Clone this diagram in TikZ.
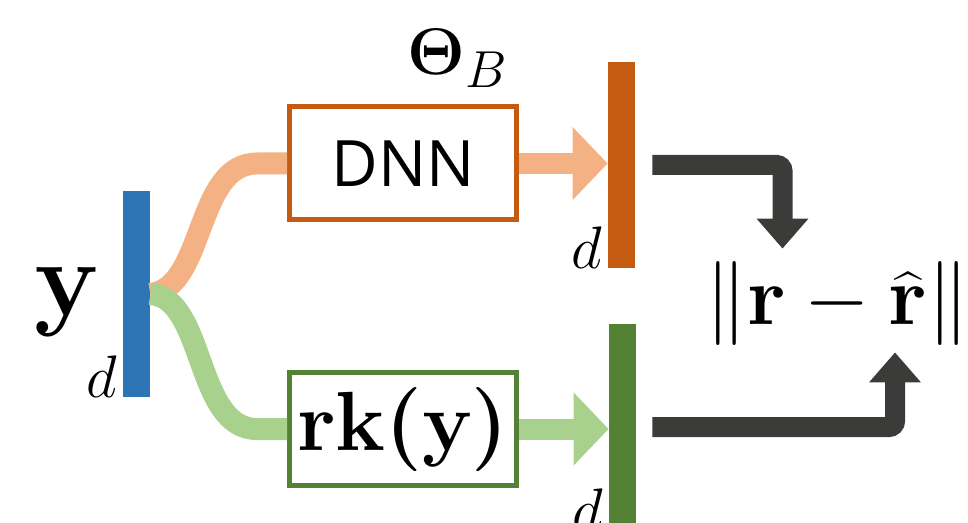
\RequirePackage{fix-cm}
\documentclass[tikz,border=0pt]{standalone}
\usepackage{amsmath}
\usepackage{bm}
\usepackage[no-math]{fontspec}
\newfontfamily\dnnfont{Open Sans}
\usetikzlibrary{arrows.meta}
\definecolor{ybarblue}{HTML}{2E75B6}
\definecolor{obarorange}{HTML}{C55A11}
\definecolor{gbargreen}{HTML}{548235}
\definecolor{lightorange}{HTML}{F4B183}
\definecolor{lightgreen}{HTML}{A9D18E}
\definecolor{lossgray}{HTML}{3B3B39}
\begin{document}
\begin{tikzpicture}[x=0.5pt,y=-0.5pt,
  vbar/.style={inner sep=0,minimum width=13.5pt,minimum height=103pt},
  blk/.style={draw,line width=2.5pt,minimum width=113.5pt,minimum height=56.5pt,inner sep=0},
  dlab/.style={anchor=base east,inner sep=0,font=\fontsize{30}{36}\selectfont},
  feed/.style={line width=11pt},
  fat/.style={line width=10.5pt,-{Triangle[width=35.5pt,length=17.5pt]}},
  lossarr/.style={line width=10pt,draw=lossgray,rounded corners=3pt,-{Triangle[width=25pt,length=15pt]}}]
\useasboundingbox (0,0) rectangle (968,523);
\node[vbar,fill=ybarblue] (ybar) at (136.5,294) {};
\node[vbar,fill=obarorange] (obar) at (621.5,165) {};
\node[vbar,fill=gbargreen] (gbar) at (622.5,427) {};
\node[blk,draw=obarorange] (dnn) at (403,163.5) {\dnnfont\fontsize{32}{36}\selectfont DNN};
\node[blk,draw=gbargreen] (rk) at (403,429) {\fontsize{42}{48}\selectfont$\mathbf{rk}\bm{(}\mathbf{y}\bm{)}$};
\node[anchor=base,inner sep=0] (ylab) at (67,316) {\fontsize{54}{60}\selectfont$\mathbf{y}$};
\node[dlab] (dy) at ([xshift=-2.5pt]ybar.south west) {$d$};
\node[dlab] (dob) at ([xshift=-2.5pt]obar.south west) {$d$};
\node[dlab] (dgb) at ([xshift=-2.5pt]gbar.south west) {$d$};
\node[anchor=base west,inner sep=0] (theta) at (407,75) {\fontsize{33}{40}\selectfont$\mathbf{\Theta}_{\mbox{\fontsize{26}{30}\selectfont$B$}}$};
\node[inner sep=0] (loss) at (837.5,303.5) {\fontsize{42}{48}\selectfont$\|\mathbf{r}-\widehat{\mathbf{r}}\|$};
\draw[feed,draw=lightorange] (ybar.east) .. controls +(55,-6) and +(-62,0) .. ([xshift=-15pt]dnn.west) -- (dnn.west);
\draw[feed,draw=lightgreen] (ybar.east) .. controls +(55,4) and +(-62,0) .. ([xshift=-15pt]rk.west) -- (rk.west);
\draw[fat,draw=lightorange] (dnn.east) -- (dnn.east -| obar.west);
\draw[fat,draw=lightgreen] (rk.east) -- (rk.east -| gbar.west);
\draw[lossarr] ([xshift=8.5pt]obar.east) -| ([xshift=-27.5pt,yshift=6.25pt]loss.north);
\draw[lossarr] ([xshift=8pt]gbar.east) -| ([xshift=28.75pt,yshift=-3.25pt]loss.south);
\end{tikzpicture}
\end{document}
